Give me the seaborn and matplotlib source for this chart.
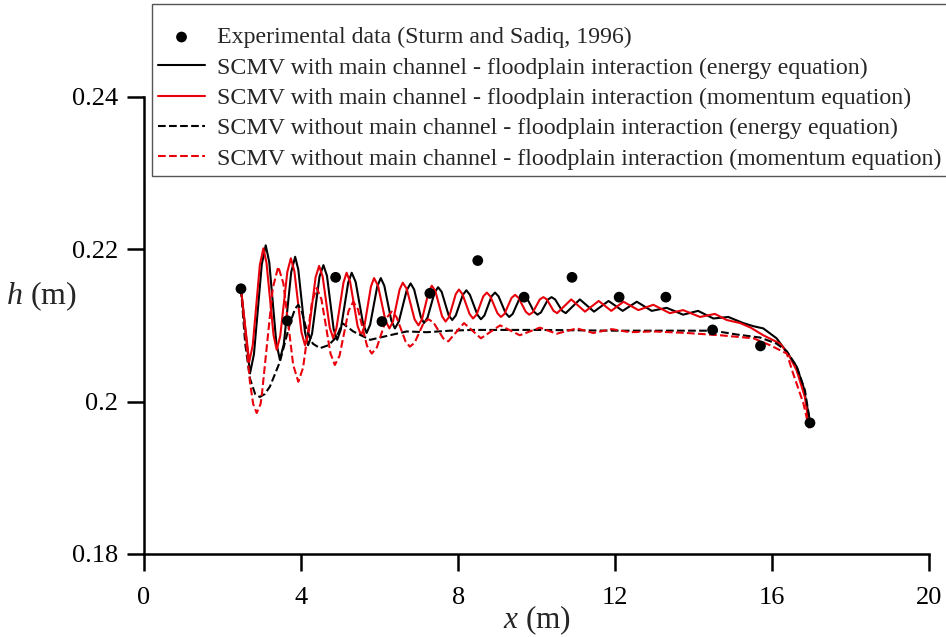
import matplotlib
matplotlib.use("Agg")
import matplotlib.pyplot as plt
import seaborn as sns

# Experimental data (Sturm and Sadiq, 1996)
x_exp = [2.47, 3.65, 4.88, 6.06, 7.28, 8.50, 9.68, 10.90, 12.10, 13.29, 14.48, 15.70, 16.96]
h_exp = [0.2148, 0.2106, 0.2163, 0.2105, 0.2142, 0.2185, 0.2137, 0.2163, 0.2137, 0.2137, 0.2094, 0.2073, 0.1972]

# SCMV with interaction (energy equation) - black solid
x_we = [2.47, 2.70, 2.80, 3.00, 3.10, 3.19, 3.37, 3.46, 3.56, 3.75, 3.85, 3.93, 4.10, 4.18, 4.28, 4.47,
        4.57, 4.66, 4.83, 4.92, 5.01, 5.20, 5.29, 5.39, 5.58, 5.67, 5.76, 5.94, 6.03, 6.12, 6.30, 6.39,
        6.49, 6.69, 6.79, 6.88, 7.05, 7.13, 7.22, 7.40, 7.49, 7.58, 7.76, 7.85, 7.94, 8.12, 8.21, 8.30,
        8.49, 8.58, 8.67, 8.85, 8.94, 9.03, 9.21, 9.30, 9.39, 9.57, 9.66, 9.75, 9.93, 10.02, 10.11, 10.29,
        10.38, 10.47, 10.65, 10.74, 11.10, 11.46, 11.83, 12.19, 12.55, 12.93, 13.31, 13.73, 14.11, 14.50,
        14.88, 15.26, 15.51, 15.77, 16.11, 16.37, 16.62, 16.79, 16.96]
h_we = [0.2148, 0.2037, 0.2062, 0.2180, 0.2205, 0.2183, 0.2077, 0.2055, 0.2075, 0.2170, 0.2190, 0.2173,
        0.2091, 0.2074, 0.2089, 0.2164, 0.2179, 0.2165, 0.2095, 0.2081, 0.2094, 0.2156, 0.2169, 0.2157,
        0.2102, 0.2090, 0.2101, 0.2151, 0.2162, 0.2152, 0.2106, 0.2096, 0.2105, 0.2146, 0.2155, 0.2147,
        0.2111, 0.2103, 0.2110, 0.2143, 0.2150, 0.2144, 0.2113, 0.2107, 0.2113, 0.2140, 0.2146, 0.2140,
        0.2114, 0.2108, 0.2113, 0.2138, 0.2143, 0.2138, 0.2116, 0.2111, 0.2115, 0.2136, 0.2140, 0.2136,
        0.2118, 0.2114, 0.2117, 0.2134, 0.2137, 0.2134, 0.2119, 0.2116, 0.2134, 0.2118, 0.2132, 0.2119,
        0.2131, 0.2119, 0.2123, 0.2114, 0.2119, 0.2109, 0.2111, 0.2103, 0.2099, 0.2096, 0.2083, 0.2065,
        0.2046, 0.2020, 0.1974]

# SCMV with interaction (momentum equation) - red solid
x_wm = [2.47, 2.68, 2.77, 2.95, 3.04, 3.12, 3.30, 3.38, 3.47, 3.65, 3.74, 3.83, 4.01, 4.10, 4.19, 4.37,
        4.46, 4.55, 4.73, 4.82, 4.90, 5.08, 5.16, 5.25, 5.44, 5.53, 5.61, 5.78, 5.86, 5.96, 6.15, 6.25,
        6.34, 6.51, 6.59, 6.69, 6.89, 6.99, 7.08, 7.25, 7.33, 7.42, 7.59, 7.68, 7.77, 7.94, 8.02, 8.11,
        8.29, 8.38, 8.47, 8.64, 8.73, 8.82, 9.00, 9.09, 9.18, 9.36, 9.45, 9.54, 9.72, 9.81, 9.90, 10.08,
        10.17, 10.26, 10.43, 10.52, 10.88, 11.23, 11.58, 11.90, 12.21, 12.59, 12.97, 13.39, 13.73, 14.16,
        14.54, 14.84, 15.18, 15.45, 15.77, 16.20, 16.40, 16.62, 16.83, 16.94]
h_wm = [0.2148, 0.2052, 0.2074, 0.2179, 0.2201, 0.2182, 0.2087, 0.2068, 0.2086, 0.2170, 0.2188, 0.2171,
        0.2091, 0.2074, 0.2089, 0.2163, 0.2178, 0.2164, 0.2097, 0.2083, 0.2096, 0.2156, 0.2169, 0.2157,
        0.2099, 0.2087, 0.2098, 0.2151, 0.2162, 0.2152, 0.2106, 0.2096, 0.2105, 0.2147, 0.2156, 0.2148,
        0.2108, 0.2100, 0.2108, 0.2144, 0.2152, 0.2145, 0.2112, 0.2105, 0.2111, 0.2141, 0.2147, 0.2141,
        0.2115, 0.2109, 0.2114, 0.2138, 0.2143, 0.2138, 0.2116, 0.2111, 0.2115, 0.2136, 0.2140, 0.2136,
        0.2118, 0.2114, 0.2117, 0.2134, 0.2137, 0.2134, 0.2119, 0.2116, 0.2134, 0.2118, 0.2132, 0.2119,
        0.2131, 0.2120, 0.2127, 0.2116, 0.2120, 0.2111, 0.2115, 0.2107, 0.2103, 0.2097, 0.2087, 0.2076,
        0.2063, 0.2041, 0.2006, 0.1967]

# SCMV without interaction (energy equation) - black dashed
x_oe = [2.47, 2.58, 2.70, 2.83, 2.95, 3.08, 3.21, 3.46, 3.72, 3.85, 3.93, 4.02, 4.14, 4.30, 4.48, 4.70,
        4.91, 5.05, 5.33, 5.76, 6.26, 6.69, 7.20, 7.79, 8.39, 10.00, 12.00, 13.65, 14.50, 15.09, 15.69,
        16.11, 16.37, 16.62, 16.83, 16.96]
h_oe = [0.2148, 0.2075, 0.2030, 0.2010, 0.2006, 0.2010, 0.2020, 0.2052, 0.2103, 0.2122, 0.2127, 0.2118,
        0.2094, 0.2076, 0.2070, 0.2074, 0.2085, 0.2103, 0.2092, 0.2081, 0.2087, 0.2092, 0.2091, 0.2093,
        0.2094, 0.2094, 0.2093, 0.2093, 0.2093, 0.2088, 0.2084, 0.2076, 0.2066, 0.2046, 0.2015, 0.1973]

# SCMV without interaction (momentum equation) - red dashed
x_om = [2.47, 2.57, 2.70, 2.78, 2.87, 2.97, 3.01, 3.28, 3.42, 3.55, 3.80, 3.93, 4.05, 4.28, 4.40, 4.52,
        4.75, 4.86, 4.98, 5.21, 5.33, 5.45, 5.68, 5.80, 5.93, 6.18, 6.31, 6.43, 6.66, 6.77, 6.89, 7.12,
        7.24, 7.37, 7.62, 7.75, 8.15, 8.58, 9.07, 9.57, 10.08, 10.51, 11.02, 11.44, 11.91, 12.38, 12.97,
        13.82, 14.67, 15.52, 15.94, 16.37, 16.53, 16.79, 16.94]
h_om = [0.2148, 0.2095, 0.2025, 0.1997, 0.1985, 0.1997, 0.2013, 0.2149, 0.2177, 0.2155, 0.2048, 0.2026,
        0.2044, 0.2131, 0.2149, 0.2134, 0.2063, 0.2048, 0.2060, 0.2119, 0.2131, 0.2121, 0.2073, 0.2063,
        0.2071, 0.2110, 0.2118, 0.2111, 0.2079, 0.2072, 0.2077, 0.2103, 0.2108, 0.2104, 0.2083, 0.2079,
        0.2103, 0.2083, 0.2100, 0.2087, 0.2097, 0.2089, 0.2096, 0.2090, 0.2095, 0.2091, 0.2092, 0.2090,
        0.2087, 0.2083, 0.2074, 0.2063, 0.2037, 0.1998, 0.1965]

labels = ["Experimental data (Sturm and Sadiq, 1996)",
          "SCMV with main channel - floodplain interaction (energy equation)",
          "SCMV with main channel - floodplain interaction (momentum equation)",
          "SCMV without main channel - floodplain interaction (energy equation)",
          "SCMV without main channel - floodplain interaction (momentum equation)"]

x_ticks = [0, 4, 8, 12, 16, 20]
y_ticks = [0.18, 0.20, 0.22, 0.24]
y_ticklabels = ["0.18", "0.2", "0.22", "0.24"]

sns.set_style("ticks")
plt.rcParams["font.family"] = ["Liberation Serif", "DejaVu Serif"]
plt.rcParams["mathtext.fontset"] = "custom"
plt.rcParams["mathtext.it"] = "Liberation Serif:italic"
plt.rcParams["mathtext.rm"] = "Liberation Serif"

fig = plt.figure(figsize=(9.46, 6.37), dpi=100)
ax = fig.add_axes([0.1522, 0.1303, 0.8302, 0.7179])

red = "#e8000b"
lw = 1.5
sns.lineplot(x=x_we, y=h_we, ax=ax, color="black", lw=lw, sort=False, estimator=None)
sns.lineplot(x=x_wm, y=h_wm, ax=ax, color=red, lw=lw, sort=False, estimator=None)
sns.lineplot(x=x_oe, y=h_oe, ax=ax, color="black", lw=lw, linestyle="--", sort=False, estimator=None)
sns.lineplot(x=x_om, y=h_om, ax=ax, color=red, lw=lw, linestyle="--", sort=False, estimator=None)
sns.scatterplot(x=x_exp, y=h_exp, ax=ax, color="black", s=60, edgecolor="none", zorder=5)

lines = ax.get_lines()
handles = [ax.collections[-1]] + list(lines[:4])

ax.set_xlim(0, 20)
ax.set_ylim(0.18, 0.24)
ax.set_xticks(x_ticks)
ax.set_yticks(y_ticks)
ax.set_yticklabels(y_ticklabels)
for s in ["top", "right"]:
    ax.spines[s].set_visible(False)
for s in ["left", "bottom"]:
    ax.spines[s].set_linewidth(1.8)
    ax.spines[s].set_color("black")
ax.tick_params(direction="out", length=12.5, width=1.8, labelsize=19, colors="black")
ax.tick_params(axis="y", pad=6)
ax.tick_params(axis="x", pad=11)

ax.set_xlabel(r"$x$ (m)", fontsize=22.5, labelpad=-4)
ax.set_ylabel(r"$h$ (m)", fontsize=23, rotation=0, va="center", ha="center")
ax.yaxis.set_label_coords(-0.130, (0.2138 - 0.18) / 0.06)

leg = fig.legend(handles, labels, loc="upper left", bbox_to_anchor=(0.1607, 0.9937),
                 fontsize=17.2, frameon=True, fancybox=False, framealpha=1,
                 edgecolor="#555555", borderaxespad=0, handlelength=1.97,
                 handletextpad=0.5, labelspacing=0.36, borderpad=0.25,
                 title=" ", title_fontsize=6)
leg.get_frame().set_linewidth(1.0)

fig.savefig("out.png", dpi=100)
